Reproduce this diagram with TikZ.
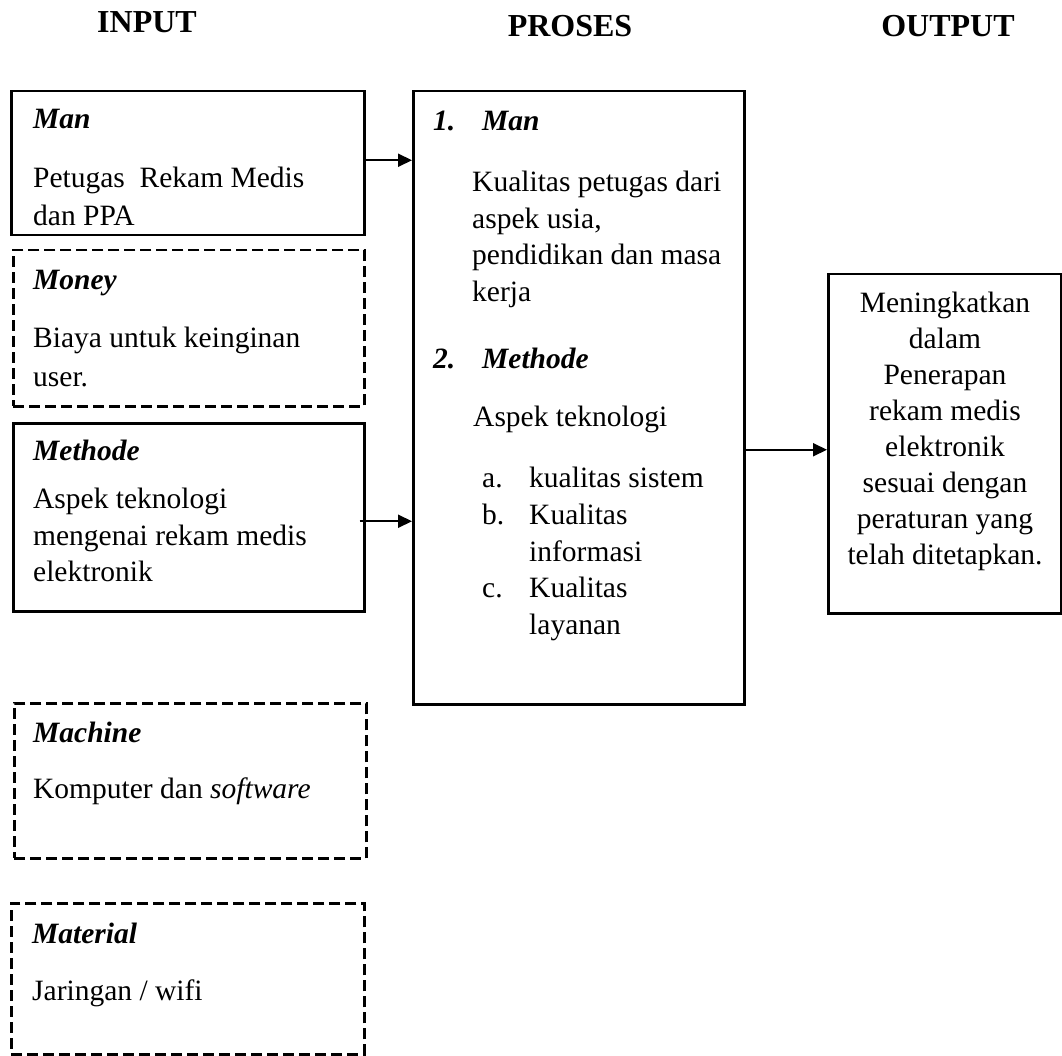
\documentclass[tikz,border=0pt]{standalone}
\usepackage{fontspec}
\setmainfont{Liberation Serif}
\usetikzlibrary{arrows.meta}

\tikzset{
  hdr/.style={anchor=base, font=\fontsize{32}{38}\selectfont\bfseries},
  ttl/.style={anchor=base west, inner sep=0pt, font=\fontsize{29.5}{36}\selectfont\bfseries\itshape},
  txt/.style={anchor=north west, inner sep=0pt, align=left, font=\fontsize{29.5}{36.5}\selectfont},
  lbl/.style={anchor=base west, inner sep=0pt, font=\fontsize{29.5}{36.5}\selectfont},
  solidbox/.style={draw, line width=2.5pt, anchor=north west, inner sep=0pt},
  dashbox/.style={solidbox, dash pattern=on 11pt off 5pt},
  arr/.style={line width=2pt, -{Triangle[length=14pt,width=13pt]}}
}

\begin{document}
\begin{tikzpicture}[x=1pt,y=-1pt]
\useasboundingbox (0,0) rectangle (1062,1056);

\node[hdr] (hin) at (147,33) {INPUT};
\node[hdr] (hpro) at (570,37) {PROSES};
\node[hdr] (hout) at (948,37) {OUTPUT};

% input
\node[solidbox, minimum width=353pt, minimum height=144pt] (man) at (10,90) {};
\node[ttl] (mant) at (33,129) {Man};
\node[txt, font=\fontsize{29.5}{38}\selectfont] (manb) at (33,167) {Petugas~ Rekam Medis\\dan PPA};

\node[dashbox, minimum width=351pt, minimum height=156pt] (money) at (12,249) {};
\node[ttl] (moneyt) at (33,290) {Money};
\node[txt, font=\fontsize{29.5}{39}\selectfont] (moneyb) at (33,327) {Biaya untuk keinginan\\user.};

\node[solidbox, minimum width=351pt, minimum height=188pt] (methode) at (12,422) {};
\node[ttl] (methodet) at (33,460) {Methode};
\node[txt] (methodeb) at (33,488) {Aspek teknologi\\mengenai rekam medis\\elektronik};

\node[dashbox, minimum width=352pt, minimum height=155pt] (machine) at (13,702) {};
\node[ttl] (machinet) at (33,742) {Machine};
\node[lbl] (machineb) at (33,798) {Komputer dan \textit{software}};

\node[dashbox, minimum width=353pt, minimum height=151pt] (material) at (10,902) {};
\node[ttl] (materialt) at (32,943) {Material};
\node[lbl] (materialb) at (32,1000) {Jaringan / wifi};

% proses
\node[solidbox, minimum width=331pt, minimum height=613pt] (proses) at (412,90) {};
\node[ttl] (n1) at (433,131) {1.};
\node[ttl] (p1) at (482,131) {Man};
\node[txt] (p1b) at (472,171) {Kualitas petugas dari\\aspek usia,\\pendidikan dan masa\\kerja};
\node[ttl] (n2) at (433,368) {2.};
\node[ttl] (p2) at (482,368) {Methode};
\node[lbl] (p2b) at (473,426) {Aspek teknologi};
\node[lbl] (la) at (482,487) {a.};
\node[lbl] (ia) at (529,487) {kualitas sistem};
\node[lbl] (lb) at (482,524) {b.};
\node[txt] (ib) at (529,504) {Kualitas\\informasi};
\node[lbl] (lc) at (482,597) {c.};
\node[txt] (ic) at (529,577) {Kualitas\\layanan};

% output
\node[solidbox, minimum width=233pt, minimum height=339pt] (output) at (827,273) {};
\node[txt, anchor=north, align=center, font=\fontsize{29.5}{36}\selectfont] (outb) at (945,292)
  {Meningkatkan\\dalam\\Penerapan\\rekam medis\\elektronik\\sesuai dengan\\peraturan yang\\telah ditetapkan.};

\coordinate (manout) at ([yshift=3pt]man.east);
\coordinate (metout) at ([xshift=-6pt,yshift=-4pt]methode.east);
\coordinate (outin) at ([yshift=-6pt]output.west);

\draw[arr] (manout) -- (manout -| proses.west);
\draw[arr] (metout) -- (metout -| proses.west);
\draw[arr] (proses.east |- outin) -- (outin);

\end{tikzpicture}
\end{document}
